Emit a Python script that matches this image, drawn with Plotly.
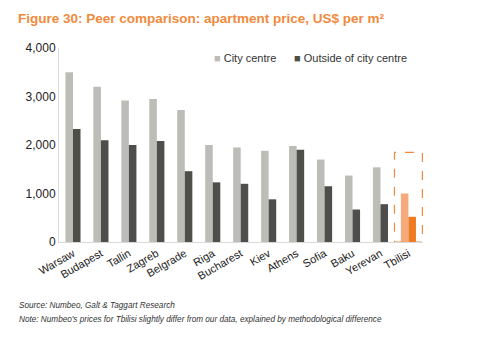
import plotly.graph_objects as go

cities = ["Warsaw", "Budapest", "Tallin", "Zagreb", "Belgrade", "Riga", "Bucharest",
          "Kiev", "Athens", "Sofia", "Baku", "Yerevan", "Tbilisi"]
city_centre = [3500, 3200, 2920, 2950, 2720, 2000, 1950, 1880, 1980, 1700, 1370, 1540, 1000]
outside_centre = [2330, 2100, 2000, 2080, 1460, 1230, 1200, 880, 1900, 1150, 670, 780, 520]
y_ticks = [0, 1000, 2000, 3000, 4000]
y_tick_labels = ["0", "1,000", "2,000", "3,000", "4,000"]
highlight_top = 1850

LIGHT = "#BDBCB7"
DARK = "#4E4E4A"
light_cols = [LIGHT] * (len(cities) - 1) + ["#F6AA7C"]
dark_cols = [DARK] * (len(cities) - 1) + ["#F07A22"]

fig = go.Figure()
fig.add_trace(go.Bar(x=cities, y=city_centre, name="City centre",
                     marker=dict(color=light_cols, line=dict(width=0))))
fig.add_trace(go.Bar(x=cities, y=outside_centre, name="Outside of city centre",
                     marker=dict(color=dark_cols, line=dict(width=0))))

fig.add_shape(type="rect", xref="x", yref="y", x0=11.5, x1=12.5, y0=0, y1=highlight_top,
              line=dict(color="#F08A3C", width=1.2, dash="dash"), fillcolor="rgba(0,0,0,0)")

PW, PH = 364, 194
def px(x):
    return (x - 59) / PW
def py(y):
    return (242 - y) / PH

fig.update_layout(
    width=480, height=337,
    margin=dict(l=59, r=57, t=48, b=95),
    paper_bgcolor="white", plot_bgcolor="white",
    barmode="group", bargap=0.46, bargroupgap=0,
    font=dict(family="Liberation Sans, Arial, sans-serif", color="#222222"),
    showlegend=False,
    xaxis=dict(showgrid=False, showline=True, linecolor="#D9D9D9", linewidth=1,
               ticks="", tickangle=-30, tickfont=dict(size=11, color="#222222")),
    yaxis=dict(range=[0, 4000], tickvals=y_ticks, ticktext=y_tick_labels,
               showgrid=False, showline=True, linecolor="#D9D9D9", linewidth=1,
               ticks="", zeroline=False, tickfont=dict(size=12, color="#222222")),
    annotations=[
        dict(text="<b>Figure 30: Peer comparison: apartment price, US$ per m²</b>",
             xref="paper", yref="paper", x=px(16), y=py(18), xanchor="left", yanchor="middle",
             showarrow=False, font=dict(size=13.5, color="#F08A3C")),
        dict(text=f"<span style='color:{LIGHT}'>■</span> City centre",
             xref="paper", yref="paper", x=px(212), y=py(58), xanchor="left", yanchor="middle",
             showarrow=False, font=dict(size=11, color="#333333")),
        dict(text=f"<span style='color:{DARK}'>■</span> Outside of city centre",
             xref="paper", yref="paper", x=px(292), y=py(58), xanchor="left", yanchor="middle",
             showarrow=False, font=dict(size=11, color="#333333")),
        dict(text="<i>Source: Numbeo, Galt & Taggart Research</i>",
             xref="paper", yref="paper", x=px(17), y=py(305), xanchor="left", yanchor="middle",
             showarrow=False, font=dict(size=8.2, color="#333333")),
        dict(text="<i>Note: Numbeo's prices for Tbilisi slightly differ from our data, explained by methodological difference</i>",
             xref="paper", yref="paper", x=px(17), y=py(319), xanchor="left", yanchor="middle",
             showarrow=False, font=dict(size=8.2, color="#333333")),
    ],
)

fig.write_html("out.html")
